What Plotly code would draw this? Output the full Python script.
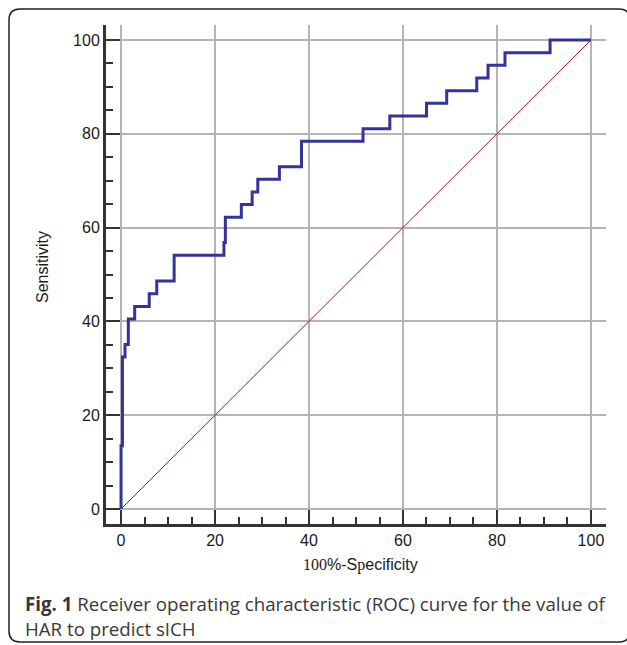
import plotly.graph_objects as go

# Data: ROC step vertices (100-Specificity, Sensitivity)
fpr = [0, 0, 0.3, 0.85, 1.55, 2.9, 6.0, 7.6, 11.3, 21.9, 22.2, 25.6, 27.9, 29.1,
       33.7, 38.4, 51.5, 57.2, 65.0, 69.3, 75.7, 78.1, 81.7, 91.3, 100]
sens = [0, 13.5, 32.4, 35.1, 40.5, 43.2, 45.9, 48.6, 54.1, 56.8, 62.2, 64.9, 67.6, 70.3,
        73.0, 78.4, 81.1, 83.8, 86.5, 89.2, 91.9, 94.6, 97.3, 100, 100]
diag_x = [0, 100]
diag_y = [0, 100]
tick_vals = [0, 20, 40, 60, 80, 100]
tick_text = ["0", "20", "40", "60", "80", "100"]

W, H = 627, 645
L, R, T, B = 106, 21, 25, 121
PW, PH = W - L - R, H - T - B

def px(x):
    return (x - L) / PW

def py(y):
    return (H - B - y) / PH

fig = go.Figure()
fig.add_trace(go.Scatter(x=diag_x, y=diag_y, mode="lines",
                         line=dict(color="#a01818", width=1), hoverinfo="skip"))
fig.add_trace(go.Scatter(x=fpr, y=sens, mode="lines", line_shape="hv",
                         line=dict(color="#333399", width=3)))

axis_common = dict(
    range=[-3.2, 103.2], tickvals=tick_vals, ticktext=tick_text,
    showgrid=True, gridcolor="#b4b4b4", gridwidth=1.5,
    showline=True, linecolor="#333333", linewidth=3,
    ticks="inside", ticklen=14, tickwidth=2, tickcolor="#333333",
    minor=dict(dtick=5, tick0=0, ticks="inside", ticklen=7, tickwidth=2,
               tickcolor="#333333", showgrid=False),
    tickfont=dict(family="Liberation Sans", size=16, color="#1a1a1a"),
    zeroline=False, fixedrange=True, mirror=False,
)
fig.update_xaxes(**axis_common)
fig.update_yaxes(**axis_common)

# Rounded frame
x0, x1, y0, y1, r = 9, 630, 9, 642, 11
path = (f"M {px(x0)},{py(y0 + r)} L {px(x0)},{py(y1 - r)} Q {px(x0)},{py(y1)} {px(x0 + r)},{py(y1)} "
        f"L {px(x1 - r)},{py(y1)} Q {px(x1)},{py(y1)} {px(x1)},{py(y1 - r)} "
        f"L {px(x1)},{py(y0 + r)} Q {px(x1)},{py(y0)} {px(x1 - r)},{py(y0)} "
        f"L {px(x0 + r)},{py(y0)} Q {px(x0)},{py(y0)} {px(x0)},{py(y0 + r)} Z")
fig.add_shape(type="path", path=path, xref="paper", yref="paper",
              line=dict(color="#222222", width=1.5), layer="below")

serif = "font-family:'Liberation Serif'"
fig.add_annotation(text=f"<span style=\"{serif}\">100</span>%-S<span style=\"{serif}\">p</span>ecificity",
                   xref="paper", yref="paper", x=px(360), y=py(565), showarrow=False,
                   xanchor="center", yanchor="middle",
                   font=dict(family="Liberation Sans", size=16, color="#1a1a1a"))
fig.add_annotation(text="Sensitivity", textangle=-90,
                   xref="paper", yref="paper", x=px(42), y=py(267), showarrow=False,
                   xanchor="center", yanchor="middle",
                   font=dict(family="Liberation Sans", size=16, color="#1a1a1a"))
fig.add_annotation(text="<b>Fig. 1</b> Receiver operating characteristic (ROC) curve for the value of",
                   xref="paper", yref="paper", x=px(23), y=py(603), showarrow=False,
                   xanchor="left", yanchor="middle",
                   font=dict(family="Open Sans", size=18.7, color="#383838"))
fig.add_annotation(text="HAR to predict sICH",
                   xref="paper", yref="paper", x=px(23), y=py(629), showarrow=False,
                   xanchor="left", yanchor="middle",
                   font=dict(family="Open Sans", size=18.7, color="#383838"))

fig.update_layout(width=W, height=H, margin=dict(l=L, r=R, t=T, b=B),
                  plot_bgcolor="white", paper_bgcolor="white", showlegend=False)
fig.write_html("out.html", config={"displayModeBar": False},
               post_script="document.body.style.margin='0';document.body.style.overflow='hidden';")
